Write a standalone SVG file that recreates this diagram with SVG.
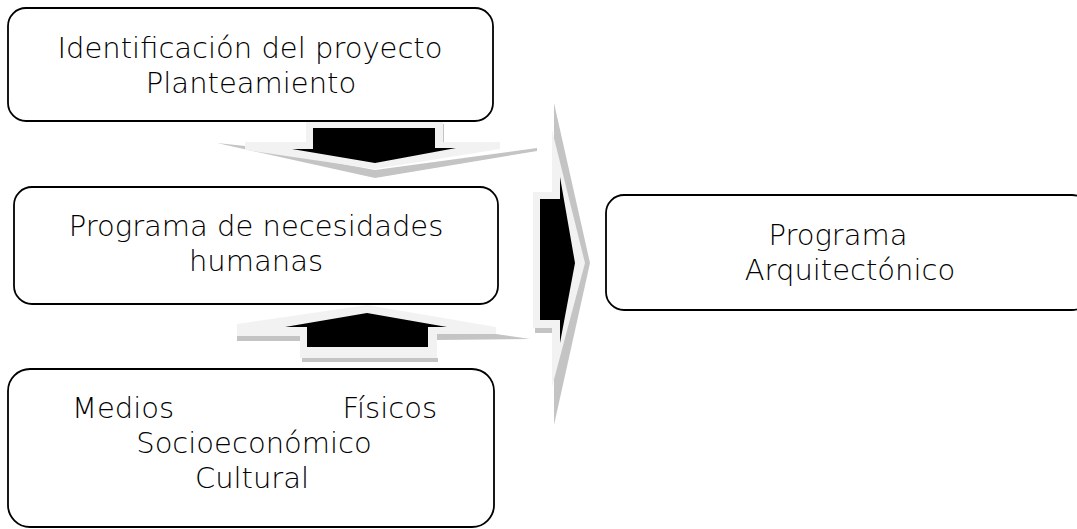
<svg xmlns="http://www.w3.org/2000/svg" width="1077" height="529" viewBox="0 0 1077 529">
<style>
.box{fill:#fff;stroke:#000;stroke-width:1.8}
.t{font-family:"DejaVu Sans",sans-serif;font-size:29px;font-weight:300;fill:#000;text-anchor:middle}
.lt{fill:#f2f2f2}
.sh{fill:#c4c4c4}
.bk{fill:#000}
</style>
<rect width="1077" height="529" fill="#fff"/>
<g id="connectors">
  <g id="arrow-down">
    <polygon class="sh" points="217,143 245,146 375,170 537,148 537,151 375,178"/>
    <rect class="sh" x="441" y="124" width="3" height="18"/>
    <polygon class="lt" points="306,120 443,120 443,142 500,142 500,149 375,169 245,150 245,142 306,142"/>
    <polygon class="bk" points="313,128 435,128 435,148 456,148 375,163 292,149 313,149"/>
  </g>
  <g id="arrow-up">
    <polygon class="sh" points="237,336 300,336 300,341 237,341"/>
    <polygon class="sh" points="302,358 438,358 438,362 302,362"/>
    <polygon class="sh" points="437,334 496,334 530,339 437,340"/>
    <polygon class="lt" points="367,305 496,327 496,334 437,334 437,358 300,358 300,336 237,336 237,324"/>
    <polygon class="bk" points="367,313 447,327 428,327 428,347 307,347 307,327 285,327"/>
  </g>
  <g id="arrow-right">
    <polygon class="sh" points="554,103 590,263 554,425"/>
    <polygon class="sh" points="535,328 552,328 552,333 535,333"/>
    <polygon class="lt" points="552,130 585,263 552,387 552,328 533,328 533,192 552,192"/>
    <polygon class="bk" points="540,199 560,199 560,177 575,263 560,343 560,320 540,320"/>
  </g>
</g>
<g id="node1">
  <rect class="box" x="8" y="8" width="485" height="113" rx="18"/>
  <text class="t" x="250" y="58">Identificación del proyecto</text>
  <text class="t" x="251" y="93">Planteamiento</text>
</g>
<g id="node2">
  <rect class="box" x="14" y="187" width="484" height="117" rx="18"/>
  <text class="t" x="256" y="236">Programa de necesidades</text>
  <text class="t" x="256" y="271">humanas</text>
</g>
<g id="node3">
  <rect class="box" x="8" y="369" width="486" height="158" rx="22"/>
  <text class="t" x="72" y="418" style="text-anchor:start">Medios</text>
  <text class="t" x="437" y="418" style="text-anchor:end">Físicos</text>
  <text class="t" x="254" y="453">Socioeconómico</text>
  <text class="t" x="252" y="488">Cultural</text>
</g>
<g id="node4">
  <rect class="box" x="606" y="195" width="484" height="115" rx="18"/>
  <text class="t" x="838" y="245">Programa</text>
  <text class="t" x="850" y="280">Arquitectónico</text>
</g>
</svg>
